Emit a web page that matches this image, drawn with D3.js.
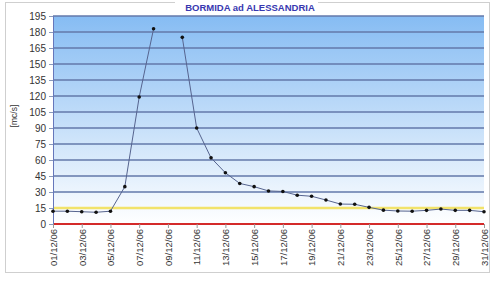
<!DOCTYPE html>
<html>
<head>
<meta charset="utf-8">
<script src="https://cdn.jsdelivr.net/npm/d3@7"></script>
<style>
  body { margin: 0; background: #fff; }
  svg { display: block; font-family: "Liberation Sans", Arial, sans-serif; }
</style>
</head>
<body>
<div id="chart"></div>
<script>
// Portata giornaliera - dicembre 2006
const giorni = d3.range(1, 32).map(d => (d < 10 ? "0" + d : "" + d) + "/12/06");
const portata = [12, 12, 11.5, 11, 12, 35, 119, 183, null, 175, 90, 62, 48, 38, 35, 31, 30.5, 27, 26, 22.5,
  18.7, 18.5, 15.6, 13, 12.2, 12, 12.8, 14, 12.8, 12.8, 11.5];
const yTicks = d3.range(0, 196, 15);
const sogliaGialla = 15;
const sogliaRossa = 0;
const titolo = "BORMIDA ad ALESSANDRIA";
const unita = "[mc/s]";

const W = 492, H = 283;
const margin = {top: 16, right: 8, bottom: 59, left: 53};
const w = W - margin.left - margin.right;
const h = H - margin.top - margin.bottom;

const svg = d3.select("#chart").append("svg").attr("width", W).attr("height", H);

// bordo esterno
svg.append("rect").attr("x", 5.5).attr("y", 2.5).attr("width", 484).attr("height", 270)
  .attr("fill", "#fff").attr("stroke", "#cfcfcf");

const defs = svg.append("defs");
const grad = defs.append("linearGradient").attr("id", "sfondo")
  .attr("x1", 0).attr("y1", 0).attr("x2", 0).attr("y2", 1);
grad.append("stop").attr("offset", "0%").attr("stop-color", "#86bcf3");
grad.append("stop").attr("offset", "100%").attr("stop-color", "#ffffff");

const g = svg.append("g").attr("transform", `translate(${margin.left},${margin.top})`);

const x = d3.scalePoint().domain(giorni).range([0, w]);
const y = d3.scaleLinear().domain([0, 195]).range([h, 0]);

g.append("rect").attr("width", w).attr("height", h).attr("fill", "url(#sfondo)");

// griglia
g.selectAll(".grid").data(yTicks.filter(d => d > 0)).join("line")
  .attr("x1", 0).attr("x2", w)
  .attr("y1", d => y(d)).attr("y2", d => y(d))
  .attr("stroke", "#6378aa").attr("stroke-width", 1.4);

// soglie
g.append("line").attr("x1", 0).attr("x2", w)
  .attr("y1", y(sogliaGialla)).attr("y2", y(sogliaGialla))
  .attr("stroke", "#f2e36a").attr("stroke-width", 2.5);
g.append("line").attr("x1", 0).attr("x2", w)
  .attr("y1", y(sogliaRossa)).attr("y2", y(sogliaRossa))
  .attr("stroke", "#d42a2a").attr("stroke-width", 2);

// assi
const yAxis = g.append("g").call(d3.axisLeft(y).tickValues(yTicks).tickSize(4).tickPadding(3));
yAxis.select(".domain").attr("stroke", "#6677bb");
yAxis.selectAll(".tick line").attr("stroke", "#8899bb");
yAxis.selectAll("text").attr("font-size", 10).attr("fill", "#333");

const xAxis = g.append("g").attr("transform", `translate(0,${h})`)
  .call(d3.axisBottom(x).tickValues(giorni.filter((d, i) => i % 2 === 0)).tickSize(4).tickSizeOuter(0));
xAxis.select(".domain").remove();
xAxis.selectAll(".tick line").attr("stroke", "#999");
xAxis.selectAll("text")
  .attr("font-size", 9.5).attr("fill", "#333")
  .attr("transform", "rotate(-90)")
  .attr("text-anchor", "end")
  .attr("x", -5).attr("y", 0).attr("dy", "0.35em");

// serie
const linea = d3.line()
  .defined(d => d != null)
  .x((d, i) => x(giorni[i]))
  .y(d => y(d));
g.append("path").datum(portata).attr("d", linea)
  .attr("fill", "none").attr("stroke", "#56648f").attr("stroke-width", 1);
g.selectAll(".pt").data(portata.map((v, i) => ({v, i})).filter(d => d.v != null)).join("circle")
  .attr("cx", d => x(giorni[d.i])).attr("cy", d => y(d.v))
  .attr("r", 1.8).attr("fill", "#111");

// etichetta asse y
svg.append("text").attr("transform", "translate(17,116) rotate(-90)")
  .attr("text-anchor", "middle").attr("font-size", 8.5).attr("fill", "#333").text(unita);

// titolo
svg.append("rect").attr("x", 175).attr("y", 1).attr("width", 143).attr("height", 13).attr("fill", "#fff");
svg.append("text").attr("x", 250).attr("y", 11).attr("text-anchor", "middle")
  .attr("font-size", 9.5).attr("font-weight", "bold").attr("fill", "#3838b0").text(titolo);
</script>
</body>
</html>
